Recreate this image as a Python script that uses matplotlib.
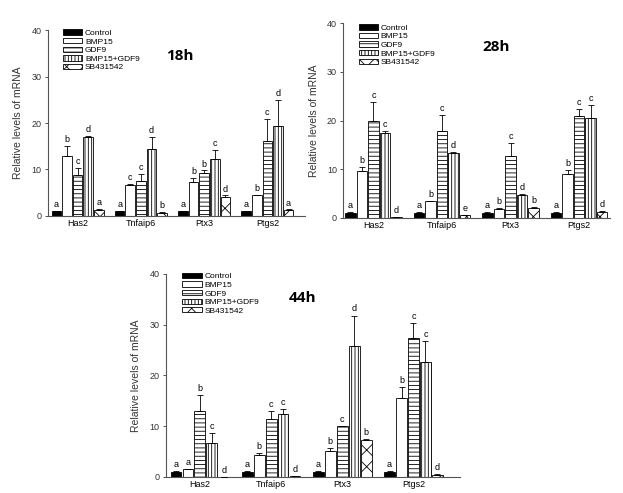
import matplotlib
matplotlib.use("Agg")
import matplotlib.pyplot as plt
import numpy as np
from matplotlib.patches import Patch

plt.rcParams['font.family'] = ['Liberation Sans', 'DejaVu Sans']
plt.rcParams['hatch.linewidth'] = 0.6

genes = ["Has2", "Tnfaip6", "Ptx3", "Ptgs2"]
treatments = ["Control", "BMP15", "GDF9", "BMP15+GDF9", "SB431542"]

# 18h
control_18 = [1.0, 1.0, 1.0, 1.0]
bmp15_18 = [12.9, 6.7, 7.4, 4.4]
gdf9_18 = [8.8, 7.6, 9.3, 16.1]
combo_18 = [16.9, 14.3, 12.2, 19.4]
sb_18 = [1.3, 0.7, 4.0, 1.3]
control_err_18 = [0.1, 0.1, 0.1, 0.1]
bmp15_err_18 = [2.1, 0.1, 0.7, 0.1]
gdf9_err_18 = [1.6, 1.5, 0.5, 4.7]
combo_err_18 = [0.4, 2.7, 2.0, 5.5]
sb_err_18 = [0.2, 0.1, 0.4, 0.1]
letters_18 = [["a", "b", "c", "d", "a"], ["a", "c", "c", "d", "b"],
              ["a", "b", "b", "c", "d"], ["a", "b", "c", "d", "a"]]

# 28h
control_28 = [1.0, 1.0, 1.0, 1.0]
bmp15_28 = [9.7, 3.4, 1.9, 9.1]
gdf9_28 = [20.0, 17.8, 12.7, 21.0]
combo_28 = [17.5, 13.3, 4.8, 20.5]
sb_28 = [0.15, 0.6, 2.1, 1.3]
control_err_28 = [0.15, 0.15, 0.15, 0.15]
bmp15_err_28 = [0.8, 0.1, 0.1, 0.8]
gdf9_err_28 = [3.8, 3.4, 2.6, 1.3]
combo_err_28 = [0.4, 0.3, 0.15, 2.7]
sb_err_28 = [0.05, 0.05, 0.2, 0.1]
letters_28 = [["a", "b", "c", "c", "d"], ["a", "b", "c", "d", "e"],
              ["a", "b", "c", "d", "b"], ["a", "b", "c", "c", "d"]]

# 44h
control_44 = [1.0, 1.0, 1.0, 1.0]
bmp15_44 = [1.6, 4.4, 5.1, 15.6]
gdf9_44 = [12.9, 11.4, 10.0, 27.3]
combo_44 = [6.7, 12.5, 25.8, 22.7]
sb_44 = [0.05, 0.1, 7.2, 0.4]
control_err_44 = [0.1, 0.1, 0.1, 0.1]
bmp15_err_44 = [0.0, 0.3, 0.6, 2.1]
gdf9_err_44 = [3.2, 1.5, 0.1, 3.0]
combo_err_44 = [2.0, 0.8, 6.0, 4.0]
sb_err_44 = [0.0, 0.0, 0.3, 0.2]
letters_44 = [["a", "a", "b", "c", "d"], ["a", "b", "c", "c", "d"],
              ["a", "b", "c", "d", "b"], ["a", "b", "c", "c", "d"]]

titles = ["18h", "28h", "44h"]

styles = [dict(facecolor="black", hatch=None),
          dict(facecolor="white", hatch=None),
          dict(facecolor="white", hatch="----"),
          dict(facecolor="white", hatch="|||||"),
          dict(facecolor="white", hatch="xx")]

fig = plt.figure(figsize=(6.23, 4.93), dpi=100)

panels = [
    dict(rect=[0.077, 0.562, 0.413, 0.377], xlim=(-0.47, 3.6),
         means=[control_18, bmp15_18, gdf9_18, combo_18, sb_18],
         errs=[control_err_18, bmp15_err_18, gdf9_err_18, combo_err_18, sb_err_18],
         letters=letters_18, title_xy=(0.46, 0.86), leg_xy=(0.04, 1.03)),
    dict(rect=[0.551, 0.558, 0.428, 0.395], xlim=(-0.44, 3.45),
         means=[control_28, bmp15_28, gdf9_28, combo_28, sb_28],
         errs=[control_err_28, bmp15_err_28, gdf9_err_28, combo_err_28, sb_err_28],
         letters=letters_28, title_xy=(0.52, 0.88), leg_xy=(0.04, 1.02)),
    dict(rect=[0.266, 0.0325, 0.472, 0.412], xlim=(-0.48, 3.65),
         means=[control_44, bmp15_44, gdf9_44, combo_44, sb_44],
         errs=[control_err_44, bmp15_err_44, gdf9_err_44, combo_err_44, sb_err_44],
         letters=letters_44, title_xy=(0.42, 0.88), leg_xy=(0.04, 1.03)),
]

x = np.arange(len(genes))
stride = 0.168
width = 0.152

for p, title in zip(panels, titles):
    ax = fig.add_axes(p["rect"])
    for i, (m, e) in enumerate(zip(p["means"], p["errs"])):
        pos = x + (i - 2) * stride
        st = styles[i]
        ax.bar(pos, m, width=width, color=st["facecolor"], edgecolor="black",
               linewidth=0.6, hatch=st["hatch"], zorder=2)
        ax.errorbar(pos, m, yerr=[np.zeros(len(m)), e], fmt="none",
                    ecolor="black", elinewidth=0.6, capsize=2.2, capthick=0.6,
                    zorder=3)
        for j in range(len(genes)):
            ax.text(pos[j], m[j] + e[j] + 0.4, p["letters"][j][i],
                    ha="center", va="bottom", fontsize=6.5)
    ax.set_xlim(*p["xlim"])
    ax.set_ylim(0, 40)
    ax.set_yticks([0, 10, 20, 30, 40])
    ax.set_xticks(x)
    ax.set_xticklabels(genes, fontsize=6.5)
    ax.tick_params(axis="y", labelsize=6.5, length=2.5, width=0.6, pad=2,
                   colors="#333333")
    ax.tick_params(axis="x", length=0, pad=2)
    for s in ["top", "right"]:
        ax.spines[s].set_visible(False)
    for s in ["left", "bottom"]:
        ax.spines[s].set_linewidth(0.8)
        ax.spines[s].set_color("#555555")
    ax.set_ylabel("Relative levels of mRNA", fontsize=7.5, labelpad=6,
                  color="#333333")
    ax.text(*p["title_xy"], title, transform=ax.transAxes, fontsize=11,
            fontweight="bold", ha="left", va="center",
            family=["Open Sans", "DejaVu Sans"])
    handles = [Patch(facecolor=st["facecolor"], edgecolor="black",
                     linewidth=0.6, hatch=st["hatch"]) for st in styles]
    ax.legend(handles, treatments, loc="upper left",
              bbox_to_anchor=p["leg_xy"], frameon=False, fontsize=6,
              handlelength=2.3, handleheight=0.6, labelspacing=0.12,
              handletextpad=0.3, borderaxespad=0.2)

fig.savefig("out.png", dpi=100)
